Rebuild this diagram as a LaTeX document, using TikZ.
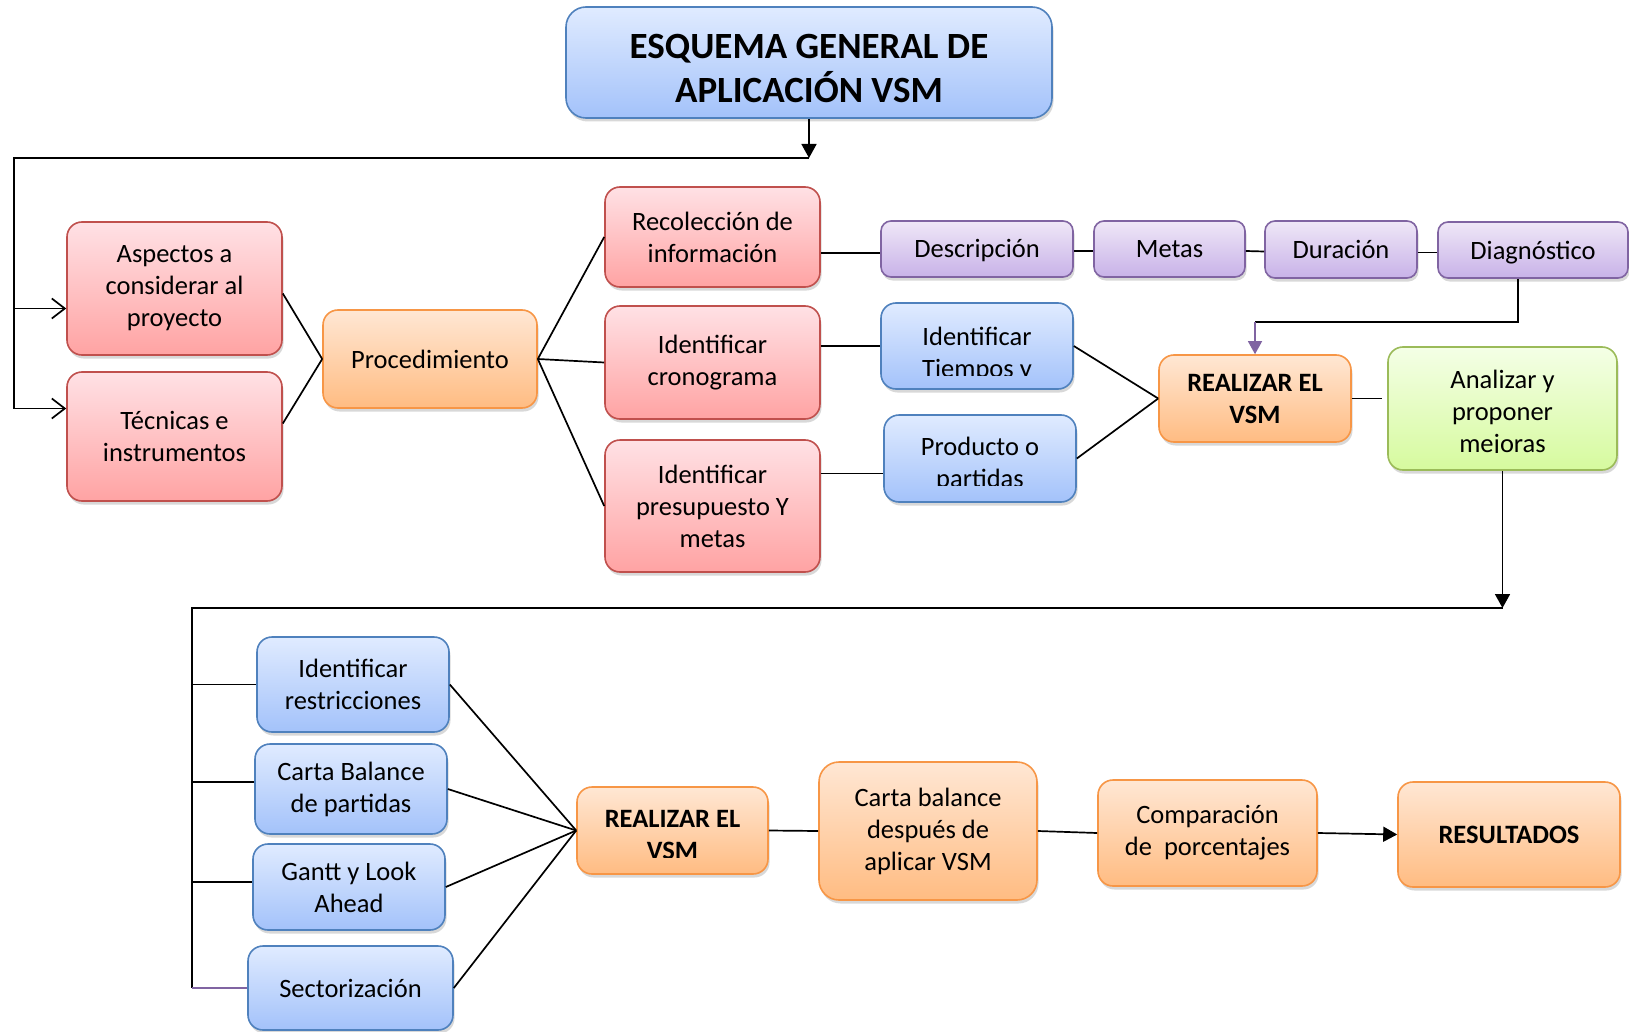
\documentclass[tikz,border=0pt]{standalone}
\usepackage{fontspec}
\setmainfont{Carlito}
\usetikzlibrary{shadows,arrows.meta,calc}
\definecolor{redT}{RGB}{255,225,229}
\definecolor{redB}{RGB}{255,163,163}
\definecolor{redD}{RGB}{192,80,77}
\definecolor{orT}{RGB}{255,231,212}
\definecolor{orB}{RGB}{255,188,130}
\definecolor{orD}{RGB}{247,150,70}
\definecolor{blT}{RGB}{224,235,255}
\definecolor{blB}{RGB}{163,194,250}
\definecolor{blD}{RGB}{79,129,189}
\definecolor{puT}{RGB}{239,231,247}
\definecolor{puB}{RGB}{200,178,232}
\definecolor{puD}{RGB}{128,100,162}
\definecolor{grT}{RGB}{244,255,230}
\definecolor{grB}{RGB}{214,250,158}
\definecolor{grD}{RGB}{155,187,89}
\newcommand\bodyfs{\fontsize{26.5}{32}\selectfont}
\newcommand\titlefs{\fontsize{37}{44}\selectfont\bfseries}
\begin{document}
\begin{tikzpicture}[x=1pt,y=-1pt,
  boxbase/.style={rounded corners=15pt, line width=1.6pt, inner sep=0pt, align=center, font=\bodyfs,
     drop shadow={shadow xshift=1.5pt, shadow yshift=-3.5pt, opacity=.3}},
  redbox/.style={boxbase, draw=redD, top color=redT, bottom color=redB},
  orbox/.style={boxbase, draw=orD, top color=orT, bottom color=orB},
  blbox/.style={boxbase, draw=blD, top color=blT, bottom color=blB},
  pubox/.style={boxbase, draw=puD, top color=puT, bottom color=puB, rounded corners=10pt, text height=20pt, text depth=2pt},
  grbox/.style={boxbase, draw=grD, top color=grT, bottom color=grB},
  sz/.style 2 args={minimum width=#1pt, minimum height=#2pt},
  txt/.style={font=\bodyfs, inner sep=0pt, anchor=base},
  ln/.style={line width=1.7pt, draw=black},
  tri/.style={ln, -{Triangle[length=14pt,width=15pt]}},
  barb/.style={ln, -{Straight Barb[length=13pt,width=20pt]}},
]
\useasboundingbox (0,0) rectangle (1629,1032);
\fill[white] (0,0) rectangle (1629,1032);

% title
\node[blbox, sz={486}{111}, rounded corners=20pt] (title) at (809,62.5) {};
\node[txt, font=\titlefs] (titleA) at (809,59) {ESQUEMA GENERAL DE};
\node[txt, font=\titlefs] (titleB) at (809,103) {APLICACIÓN VSM};

% left column
\node[redbox, sz={215}{133}] (asp) at (174.5,288.5) {Aspectos a\\considerar al\\proyecto};
\node[redbox, sz={215}{129}] (tec) at (174.5,436.5) {Técnicas e\\instrumentos};
\node[orbox, sz={214}{98}] (proc) at (430,359) {Procedimiento};

% middle column
\node[redbox, sz={215}{100}] (rec) at (712.5,237) {Recolección de\\información};
\node[redbox, sz={215}{113}] (crono) at (712.5,362.5) {Identificar\\cronograma};
\node[redbox, sz={215}{132}] (pres) at (712.5,506) {Identificar\\presupuesto Y\\metas};

% purple row
\node[pubox, sz={192}{56}] (desc) at (977,249) {Descripción};
\node[pubox, sz={151}{56}] (metas) at (1169.5,249) {Metas};
\node[pubox, sz={152}{57}] (dur) at (1341,249.5) {Duración};
\node[pubox, sz={190}{56}] (diag) at (1533,250) {Diagnóstico};

% blue (clipped text)
\node[blbox, sz={192}{86}] (tiem) at (977,346) {};
\begin{scope}
\clip (tiem.north west) rectangle ([yshift=14pt]tiem.south east);
\node[txt] (tiemA) at (977,345) {Identificar};
\node[txt] (tiemB) at (977,377) {Tiempos y};
\end{scope}
\node[blbox, sz={192}{87}] (prod) at (980,458.5) {};
\begin{scope}
\clip (prod.north west) rectangle ([yshift=17pt]prod.south east);
\node[txt] (prodA) at (980,455) {Producto o};
\node[txt] (prodB) at (980,487) {partidas};
\end{scope}

\node[orbox, sz={192}{87}, font=\bodyfs\bfseries] (real1) at (1255,398.5) {REALIZAR EL\\VSM};
\node[grbox, sz={229}{123}] (anal) at (1502.5,408.5) {};
\begin{scope}
\clip (anal.north west) rectangle ([yshift=18pt]anal.south east);
\node[txt] (analA) at (1502.5,388) {Analizar y};
\node[txt] (analB) at (1502.5,420) {proponer};
\node[txt] (analC) at (1502.5,452) {mejoras};
\end{scope}

% bottom left column
\node[blbox, sz={192}{95}] (restr) at (353,684.5) {Identificar\\restricciones};
\node[blbox, sz={192}{90}] (cartaB) at (351,789) {Carta Balance\\de partidas};
\node[blbox, sz={192}{86}] (gantt) at (349,887) {Gantt y Look\\Ahead};
\node[blbox, sz={205}{84}] (sect) at (350.5,988) {Sectorización};

% bottom row
\node[orbox, sz={191}{87}] (real2) at (672.5,830.5) {};
\begin{scope}
\clip (real2.north west) rectangle ([yshift=17pt]real2.south east);
\node[txt, font=\bodyfs\bfseries] (real2A) at (672.5,827) {REALIZAR EL};
\node[txt, font=\bodyfs\bfseries] (real2B) at (672.5,859) {VSM};
\end{scope}
\node[orbox, sz={218}{138}, rounded corners=20pt] (cartab) at (928,831) {Carta balance\\después de\\aplicar VSM};
\node[orbox, sz={219}{106}] (comp) at (1207.5,833) {Comparación\\de\ \ porcentajes};
\node[orbox, sz={222}{105}, font=\bodyfs\bfseries] (res) at (1509,834.5) {RESULTADOS};

% ---- connectors ----
\coordinate (topL) at (14,158);
\coordinate (aspIn) at ([yshift=-20pt]asp.west);
\coordinate (tecIn) at ([yshift=28pt]tec.west);
\draw[tri] (title.south) -- (title.south |- topL);
\draw[barb] (title.south |- topL) -- (topL) |- (tecIn);
\draw[barb] (aspIn -| topL) -- (aspIn);

\draw[ln] ([yshift=-5pt]asp.east) -- (proc.west);
\draw[ln] ([yshift=13pt]tec.east) -- (proc.west);
\draw[ln] (proc.east) -- (rec.west);
\draw[ln] (proc.east) -- (crono.west);
\draw[ln] (proc.east) -- (pres.west);

\coordinate (descIn) at ([yshift=-4pt]desc.west);
\draw[ln] (descIn -| rec.east) -- (descIn);
\draw[ln] ([yshift=-2pt]desc.east) -- ([yshift=-2pt]metas.west);
\draw[ln] ([yshift=-2pt]metas.east) -- ([yshift=-2pt]dur.west);
\draw[ln] ([yshift=-3pt]dur.east) -- ([yshift=-3pt]dur.east -| diag.west);
\draw[ln] (tiem.west -| crono.east) -- (tiem.west);
\coordinate (presOut) at ([yshift=-15pt]prod.west);
\draw[ln] (presOut -| pres.east) -- (presOut);

\draw[ln] (tiem.east) -- (real1.west);
\draw[ln] (prod.east) -- (real1.west);
\coordinate (d1) at ([xshift=-15pt]diag.south);
\draw[ln] (d1) -- ++(0,43) coordinate (d2) -- (d2 -| real1.north);
\draw[line width=1.3pt, draw=puD, -{Triangle[length=13pt,width=14pt]}] (d2 -| real1.north) -- (real1.north);
\draw[ln] (real1.east) -- ([xshift=-5pt]real1.east -| anal.west);

\coordinate (botL) at (192,608);
\draw[tri] (anal.south) -- (anal.south |- botL);
\draw[ln] (anal.south |- botL) -- (botL) -- (botL |- sect.west);
\draw[ln] (restr.west -| botL) -- (restr.west);
\draw[ln] ([yshift=7pt]cartaB.west -| botL) -- ([yshift=7pt]cartaB.west);
\draw[ln] ([yshift=5pt]gantt.west -| botL) -- ([yshift=5pt]gantt.west);
\draw[line width=1.2pt, draw=puD] (sect.west -| botL) -- (sect.west);

\draw[ln] (restr.east) -- (real2.west);
\draw[ln] (cartaB.east) -- (real2.west);
\draw[ln] (gantt.east) -- (real2.west);
\draw[ln] (sect.east) -- (real2.west);
\draw[ln] (real2.east) -- (cartab.west);
\draw[ln] (cartab.east) -- (comp.west);
\draw[tri] (comp.east) -- (res.west);
\end{tikzpicture}
\end{document}
